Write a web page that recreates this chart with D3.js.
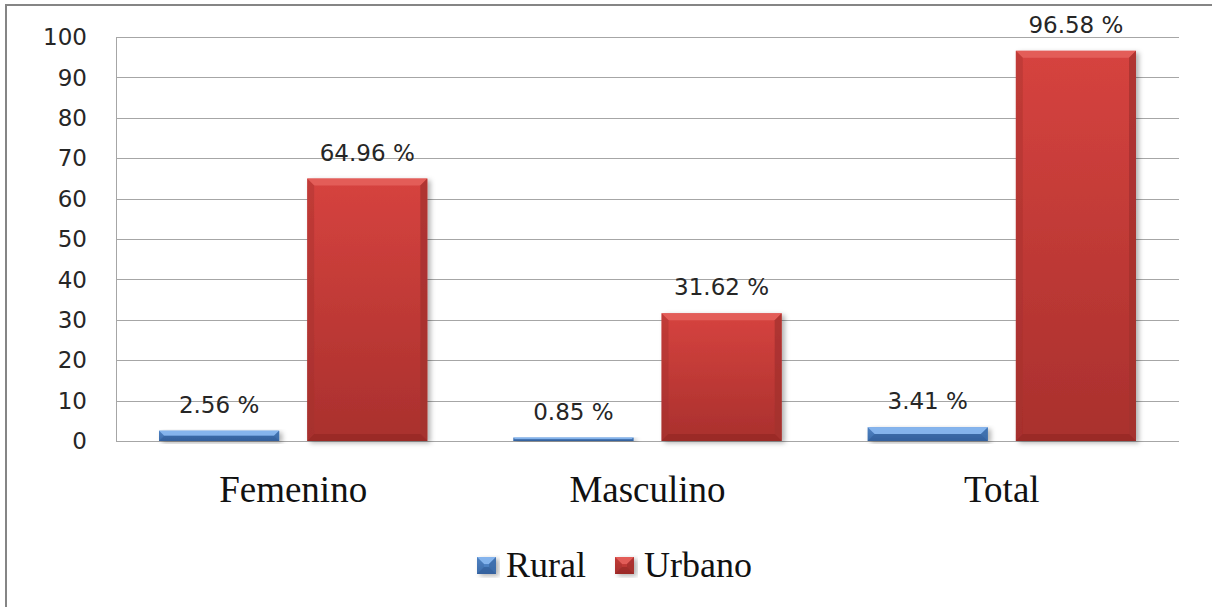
<!DOCTYPE html>
<html>
<head>
<style>
  body { margin: 0; background: #fff; }
  .grid line { stroke: #a6a6a6; stroke-width: 1; }
  .ylab { font-family: "DejaVu Sans", sans-serif; font-size: 23px; fill: #262626; }
  .val { font-family: "DejaVu Sans", sans-serif; font-size: 23px; fill: #262626; }
  .cat { font-family: "Liberation Serif", serif; font-size: 37px; fill: #111; }
  .leg { font-family: "Liberation Serif", serif; font-size: 36px; fill: #111; }
</style>
</head>
<body>
<svg id="chart" width="1212" height="607"></svg>
<script src="https://cdn.jsdelivr.net/npm/d3@7/dist/d3.min.js"></script>
<script>
const categories = ["Femenino", "Masculino", "Total"];
const series = ["Rural", "Urbano"];
const rural = [2.56, 0.85, 3.41];
const urbano = [64.96, 31.62, 96.58];
const yTicks = [0, 10, 20, 30, 40, 50, 60, 70, 80, 90, 100];

const svg = d3.select("#chart");
const plotLeft = 116, plotRight = 1179, plotTop = 37, plotBottom = 441;

// outer frame (right/bottom edges fall outside the window)
svg.append("rect")
  .attr("x", 6).attr("y", 5).attr("width", 1230).attr("height", 630)
  .attr("fill", "none").attr("stroke", "#858585").attr("stroke-width", 2);

const x0 = d3.scaleBand().domain(categories).range([plotLeft, plotRight]);
const x1 = d3.scaleBand().domain(series).range([43, x0.bandwidth() - 43]).paddingInner(0.189);
const y = d3.scaleLinear().domain([0, 100]).range([plotBottom, plotTop]);

// colours for the bevelled bars
const pal = {
  Rural:  { light: "#8ab8ef", top: "#5d93d6", bot: "#3d6fae", side: "#3b6aa6", dark: "#2b5590" },
  Urbano: { light: "#e4615c", top: "#d6433f", bot: "#a9302d", side: "#a3302d", dark: "#8e2624" }
};

const defs = svg.append("defs");
series.forEach(s => {
  const g = defs.append("linearGradient").attr("id", "g" + s)
    .attr("x1", 0).attr("y1", 0).attr("x2", 0).attr("y2", 1);
  g.append("stop").attr("offset", "0%").attr("stop-color", pal[s].top);
  g.append("stop").attr("offset", "100%").attr("stop-color", pal[s].bot);
});
const f = defs.append("filter").attr("id", "shadow")
  .attr("x", "-10%").attr("y", "-10%").attr("width", "130%").attr("height", "130%");
f.append("feDropShadow").attr("dx", 3).attr("dy", 2).attr("stdDeviation", 2.5)
  .attr("flood-color", "#000").attr("flood-opacity", 0.3);

// grid + axis
const grid = svg.append("g").attr("class", "grid");
grid.selectAll("line.h").data(yTicks).enter().append("line")
  .attr("x1", plotLeft).attr("x2", plotRight)
  .attr("y1", d => Math.round(y(d)) + 0.5).attr("y2", d => Math.round(y(d)) + 0.5);
grid.append("line")
  .attr("x1", plotLeft + 0.5).attr("x2", plotLeft + 0.5).attr("y1", y(100)).attr("y2", y(0));

svg.append("g").selectAll("text").data(yTicks).enter().append("text")
  .attr("class", "ylab").attr("x", 87).attr("y", d => y(d)).attr("dy", "0.36em")
  .attr("text-anchor", "end").text(d => d);

// bars with bevel
function bevelBar(g, x, yy, w, h, s) {
  const b = Math.min(7, h / 2);
  const p = pal[s];
  const bar = g.append("g").attr("filter", "url(#shadow)");
  bar.append("rect").attr("x", x).attr("y", yy).attr("width", w).attr("height", h)
    .attr("fill", "url(#g" + s + ")");
  const poly = (pts, c, o) => bar.append("polygon")
    .attr("points", pts.map(q => q.join(",")).join(" ")).attr("fill", c).attr("opacity", o);
  poly([[x, yy], [x + w, yy], [x + w - b, yy + b], [x + b, yy + b]], p.light, 0.9);
  poly([[x, yy], [x + b, yy + b], [x + b, yy + h - b], [x, yy + h]], p.side, 0.4);
  poly([[x + w, yy], [x + w - b, yy + b], [x + w - b, yy + h - b], [x + w, yy + h]], p.side, 0.75);
  poly([[x, yy + h], [x + b, yy + h - b], [x + w - b, yy + h - b], [x + w, yy + h]], p.dark, 0.55);
}

const rows = categories.map((c, i) => ({ cat: c, vals: [rural[i], urbano[i]] }));
const bars = svg.append("g");
rows.forEach(r => {
  r.vals.forEach((v, j) => {
    const s = series[j];
    const bx = x0(r.cat) + x1(s);
    bevelBar(bars, bx, y(v), x1.bandwidth(), y(0) - y(v), s);
    svg.append("text").attr("class", "val")
      .attr("x", bx + x1.bandwidth() / 2).attr("y", y(v) - 18)
      .attr("text-anchor", "middle").text(v.toFixed(2) + " %");
  });
});

// category labels
svg.append("g").selectAll("text").data(categories).enter().append("text")
  .attr("class", "cat").attr("x", d => x0(d) + x0.bandwidth() / 2).attr("y", 502)
  .attr("text-anchor", "middle").text(d => d);

// legend
const legX = [477, 615];
series.forEach((s, i) => {
  const lg = svg.append("g");
  bevelBar(lg, legX[i], 557, 19, 17, s);
  lg.append("text").attr("class", "leg").attr("x", legX[i] + 29).attr("y", 577).text(s);
});
</script>
</body>
</html>
